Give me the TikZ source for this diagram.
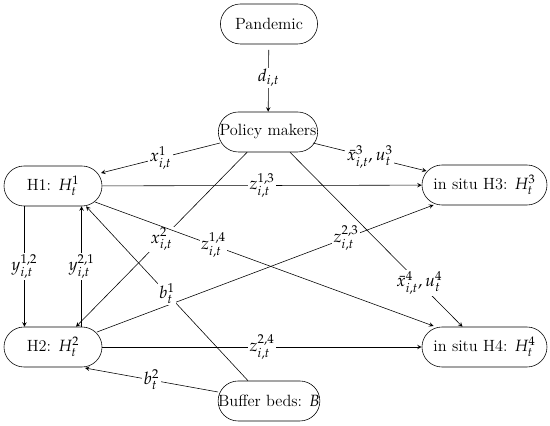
\documentclass[tikz,border=0pt,12pt]{standalone}
\usepackage{amsmath}
\usepackage{mathpazo}

\tikzset{
  boite/.style={draw, rectangle, rounded corners=14pt, minimum height=28pt, minimum width=68.6pt, inner xsep=0pt, font=\fontsize{11.4}{13}\selectfont},
  lab/.style={fill=white, inner sep=1pt},
}

\begin{document}
\begin{tikzpicture}[x=0.7pt,y=-0.7pt,>=stealth]
\useasboundingbox (0,0) rectangle (550,426);
%noeuds
\node[boite, minimum width=68pt] (pand) at (269,24) {Pandemic};
\node[boite, minimum width=69.5pt] (pol) at (268,132) {Policy makers};
\node[boite] (h1) at (53,186) {H1: $H_t^1$};
\node[boite, minimum width=87.5pt] (h3) at (484.5,185) {in situ H3: $H_t^3$};
\node[boite] (h2) at (53,347) {H2: $H_t^2$};
\node[boite, minimum width=87.5pt] (h4) at (484.5,347) {in situ H4: $H_t^4$};
\node[boite, minimum width=70pt] (buf) at (269,401) {Buffer beds: $B$};

%fleches
\draw[->, shorten <=4pt] (pand) -- (pol) node[lab, midway] {$d_{i,t}$};
\draw[->] ([shift={(-48,11)}]pol.center) -- ([shift={(48,-13)}]h1.center) node[lab, midway] {$x_{i,t}^1$};
\draw[->] ([shift={(45,11)}]pol.center) -- ([shift={(-58,-14)}]h3.center) node[lab, midway] {$\bar{x}_{i,t}^3, u_t^3$};
\draw[->] (pol.south west) ++(29,0) -- ([xshift=23*0.7pt]h2.north) node[lab, midway] {$x_{i,t}^2$};
\draw[->] ([xshift=22*0.7pt]pol.south) -- ([xshift=-22*0.7pt]h4.north) node[lab, pos=0.75] {$\bar{x}_{i,t}^4, u_t^4$};

\draw[->] (h1) -- (h3) node[lab, midway] {$z_{i,t}^{1,3}$};
\draw[->] ([shift={(42,16)}]h1.center) -- ([shift={(-51,-21)}]h4.center) node[lab, pos=0.35] {$z_{i,t}^{1,4}$};
\draw[->] ([shift={(44,-15)}]h2.center) -- ([shift={(-51,20)}]h3.center) node[lab, pos=0.74] {$z_{i,t}^{2,3}$};
\draw[->] (h2) -- (h4) node[lab, midway] {$z_{i,t}^{2,4}$};

\draw[->] ([xshift=-20pt]h1.south) -- ([xshift=-20pt]h2.north) node[lab, midway] {$y_{i,t}^{1,2}$};
\draw[->] ([xshift=20pt]h2.north) -- ([xshift=20pt]h1.south) node[lab, midway] {$y_{i,t}^{2,1}$};

\draw[->] ([xshift=-21*0.7pt]buf.north) -- ([xshift=33*0.7pt]h1.south) node[lab, midway] {$b_t^1$};
\draw[->] ([shift={(-51,-9)}]buf.center) -- ([shift={(32,21)}]h2.center) node[lab, midway] {$b_t^2$};

\end{tikzpicture}
\end{document}
